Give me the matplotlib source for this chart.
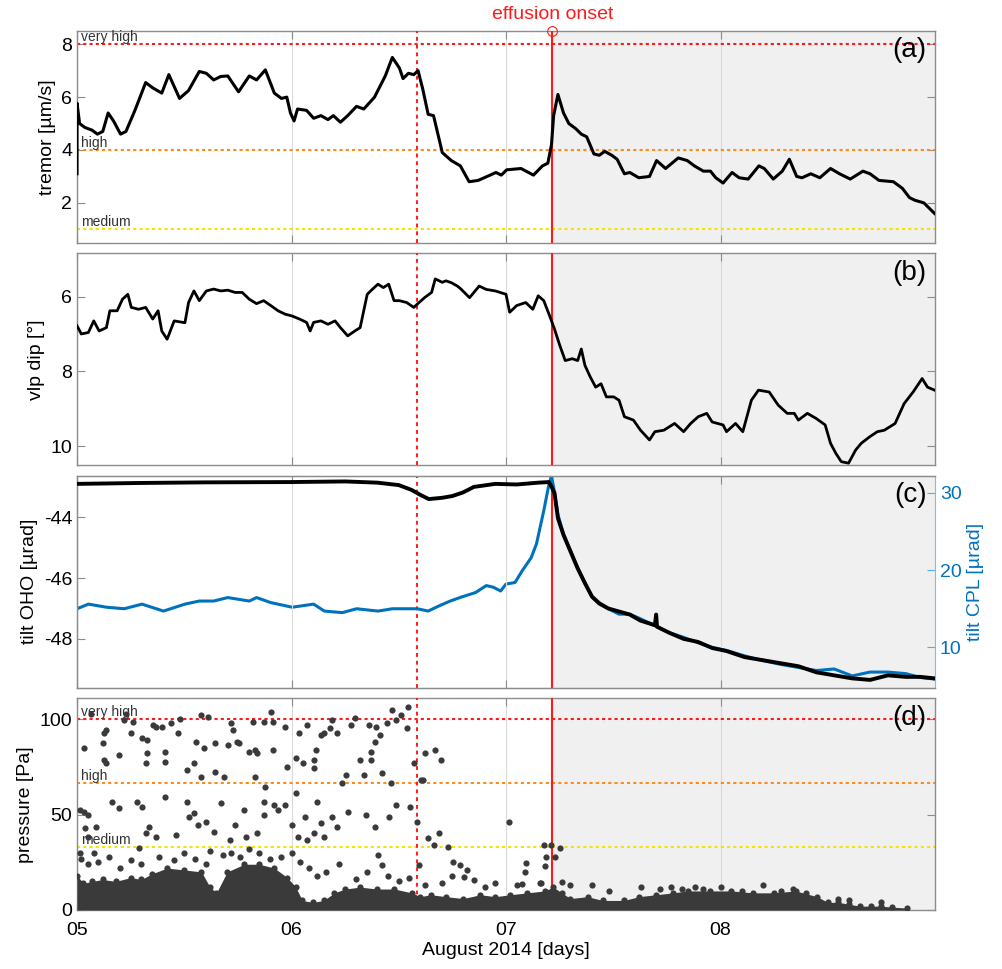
import matplotlib
matplotlib.use('Agg')
import matplotlib.pyplot as plt

plt.rcParams['font.family'] = ['Liberation Sans', 'DejaVu Sans']
plt.rcParams['axes.unicode_minus'] = False

# ---------------- data ----------------
X_START, X_END = 5.0, 9.0
ESCALATION_DAY = 6.586
ONSET_DAY = 7.216
day_ticks = [5, 6, 7, 8]
day_labels = ['05', '06', '07', '08']

tremor_levels = {'medium': 1.0, 'high': 4.0, 'very high': 8.0}
pressure_levels = {'medium': 33.3, 'high': 66.7, 'very high': 100.0}

tremor_t = [5.0, 5.0, 5.012, 5.037, 5.07, 5.095, 5.12, 5.145, 5.17, 5.203, 5.228, 5.27, 5.32, 5.353,
            5.395, 5.428, 5.453, 5.478, 5.52, 5.57, 5.603, 5.637, 5.67, 5.703, 5.753, 5.803, 5.837,
            5.878, 5.92, 5.953, 5.978, 5.995, 6.012, 6.028, 6.07, 6.103, 6.137, 6.17, 6.195, 6.228,
            6.262, 6.303, 6.337, 6.387, 6.437, 6.47, 6.503, 6.52, 6.545, 6.57, 6.59, 6.612, 6.637,
            6.662, 6.703, 6.745, 6.787, 6.828, 6.87, 6.912, 6.953, 6.978, 7.003, 7.07, 7.128, 7.17,
            7.195, 7.212, 7.222, 7.242, 7.268, 7.293, 7.326, 7.351, 7.376, 7.41, 7.435, 7.46, 7.493,
            7.518, 7.552, 7.577, 7.619, 7.669, 7.702, 7.744, 7.803, 7.845, 7.878, 7.92, 7.953, 7.978,
            8.012, 8.054, 8.087, 8.129, 8.179, 8.204, 8.246, 8.288, 8.321, 8.355, 8.38, 8.421, 8.463,
            8.513, 8.555, 8.605, 8.664, 8.697, 8.739, 8.806, 8.848, 8.881, 8.906, 8.948, 8.998]
tremor_v = [3.1, 5.77, 5.0, 4.85, 4.75, 4.6, 4.7, 5.4, 5.1, 4.6, 4.7, 5.5, 6.55, 6.35,
            6.15, 6.85, 6.4, 5.95, 6.25, 6.97, 6.9, 6.65, 6.78, 6.8, 6.2, 6.8, 6.65,
            7.03, 6.15, 5.95, 6.0, 5.4, 5.1, 5.55, 5.5, 5.2, 5.3, 5.15, 5.3, 5.05,
            5.3, 5.65, 5.55, 6.0, 6.8, 7.5, 7.1, 6.7, 6.9, 6.85, 7.0, 6.3, 5.35,
            5.3, 3.9, 3.6, 3.4, 2.8, 2.85, 3.0, 3.15, 3.05, 3.25, 3.3, 3.05, 3.4,
            3.5, 4.2, 5.3, 6.1, 5.4, 5.0, 4.8, 4.6, 4.5, 3.85, 3.8, 3.95, 3.8,
            3.65, 3.1, 3.15, 2.95, 3.0, 3.6, 3.3, 3.7, 3.6, 3.4, 3.2, 3.2, 2.95,
            2.75, 3.15, 2.95, 2.9, 3.4, 3.3, 2.9, 3.2, 3.65, 3.0, 2.95, 3.1, 2.95,
            3.3, 3.1, 2.9, 3.2, 3.1, 2.85, 2.8, 2.55, 2.2, 2.1, 2.0, 1.6]

vlp_t = [5.0, 5.02, 5.053, 5.078, 5.103, 5.137, 5.153, 5.187, 5.212, 5.237, 5.253, 5.287, 5.32,
         5.353, 5.378, 5.395, 5.42, 5.453, 5.503, 5.52, 5.545, 5.57, 5.603, 5.637, 5.67, 5.703,
         5.737, 5.77, 5.803, 5.837, 5.87, 5.903, 5.937, 5.97, 6.003, 6.037, 6.07, 6.087, 6.103,
         6.137, 6.17, 6.203, 6.228, 6.262, 6.295, 6.32, 6.353, 6.378, 6.403, 6.428, 6.453, 6.478,
         6.503, 6.537, 6.57, 6.587, 6.62, 6.653, 6.67, 6.703, 6.72, 6.745, 6.773, 6.79, 6.83,
         6.875, 6.908, 6.95, 7.0, 7.017, 7.05, 7.092, 7.125, 7.15, 7.176, 7.209, 7.226, 7.251,
         7.276, 7.309, 7.334, 7.351, 7.368, 7.393, 7.418, 7.443, 7.468, 7.502, 7.527, 7.552,
         7.594, 7.627, 7.669, 7.694, 7.736, 7.786, 7.828, 7.861, 7.896, 7.936, 7.961, 8.012,
         8.028, 8.07, 8.104, 8.144, 8.177, 8.227, 8.269, 8.311, 8.344, 8.363, 8.405, 8.447,
         8.488, 8.513, 8.538, 8.563, 8.597, 8.63, 8.656, 8.697, 8.731, 8.764, 8.814, 8.856,
         8.898, 8.94, 8.965, 8.998]
vlp_v = [6.78, 7.0, 6.96, 6.65, 6.92, 6.83, 6.38, 6.38, 6.07, 5.94, 6.29, 6.34, 6.29,
         6.6, 6.38, 6.92, 7.14, 6.65, 6.7, 6.16, 5.85, 6.11, 5.85, 5.8, 5.85, 5.83,
         5.89, 5.89, 6.07, 6.19, 6.11, 6.24, 6.38, 6.47, 6.52, 6.6, 6.69, 6.92, 6.69,
         6.65, 6.74, 6.65, 6.83, 7.05, 6.92, 6.83, 5.94, 5.8, 5.67, 5.76, 5.67, 6.11,
         6.11, 6.16, 6.29, 6.2, 6.03, 5.89, 5.53, 5.62, 5.58, 5.63, 5.72, 5.8, 6.03,
         5.72, 5.81, 5.85, 5.94, 6.42, 6.24, 6.16, 6.34, 5.98, 6.11, 6.6, 6.87, 7.31,
         7.71, 7.66, 7.71, 7.4, 7.84, 8.15, 8.42, 8.33, 8.68, 8.68, 8.77, 9.21,
         9.3, 9.57, 9.83, 9.61, 9.57, 9.39, 9.61, 9.39, 9.21, 9.12, 9.35, 9.43,
         9.61, 9.39, 9.61, 8.77, 8.5, 8.55, 8.9, 9.12, 9.12, 9.3, 9.12, 9.26,
         9.43, 9.92, 10.19, 10.41, 10.45, 10.1, 9.92, 9.74, 9.61, 9.57, 9.39, 8.86,
         8.55, 8.19, 8.42, 8.5]

oho_t = [5.0, 5.3, 5.6, 6.0, 6.25, 6.4, 6.5, 6.56, 6.6, 6.64, 6.7, 6.75, 6.8, 6.85, 6.95, 7.05,
         7.15, 7.2, 7.212, 7.226, 7.242, 7.268, 7.301, 7.334, 7.368, 7.401, 7.435, 7.477, 7.527,
         7.577, 7.627, 7.694, 7.700, 7.704, 7.761, 7.828, 7.895, 7.961, 8.028, 8.112, 8.196,
         8.279, 8.363, 8.447, 8.53, 8.614, 8.697, 8.781, 8.864, 8.931, 8.998]
oho_v = [-42.9, -42.87, -42.85, -42.84, -42.82, -42.86, -42.94, -43.1, -43.26, -43.4, -43.36,
         -43.3, -43.18, -43.0, -42.9, -42.92, -42.86, -42.84, -42.99, -43.2, -44.03, -44.58,
         -45.13, -45.68, -46.17, -46.61, -46.83, -47.0, -47.1, -47.2, -47.4, -47.55, -47.2,
         -47.6, -47.8, -48.0, -48.1, -48.3, -48.4, -48.6, -48.7, -48.8, -48.9, -49.1, -49.2,
         -49.3, -49.35, -49.2, -49.25, -49.25, -49.3]

cpl_t = [5.0, 5.053, 5.137, 5.22, 5.303, 5.403, 5.503, 5.57, 5.637, 5.703, 5.803, 5.837,
         5.903, 6.003, 6.103, 6.153, 6.237, 6.303, 6.403, 6.47, 6.587, 6.637, 6.69, 6.74,
         6.79, 6.858, 6.908, 6.94, 6.975, 7.0, 7.042, 7.075, 7.117, 7.142, 7.176, 7.2, 7.212,
         7.222, 7.242, 7.268, 7.301, 7.334, 7.368, 7.401, 7.435, 7.477, 7.527, 7.577, 7.627,
         7.694, 7.761, 7.828, 7.895, 7.961, 8.028, 8.112, 8.196, 8.279, 8.363, 8.447, 8.53,
         8.614, 8.697, 8.781, 8.864, 8.931, 8.998]
cpl_v = [15.0, 15.6, 15.2, 15.0, 15.6, 14.7, 15.6, 16.0, 16.0, 16.45, 16.0, 16.45,
         15.8, 15.2, 15.6, 14.7, 14.5, 15.0, 14.7, 15.0, 15.0, 14.7, 15.4, 16.0,
         16.5, 17.1, 18.0, 17.8, 17.3, 18.2, 18.4, 19.9, 21.6, 23.4, 27.7, 31.1, 32.2,
         30.7, 27.2, 24.7, 22.5, 20.3, 18.4, 16.5, 15.6, 15.0, 14.3, 14.3, 13.7,
         12.8, 11.9, 11.3, 10.6, 10.0, 9.6, 8.9, 8.3, 7.8, 7.4, 7.0, 7.2,
         6.3, 6.8, 6.8, 6.6, 6.1, 5.9]

# isolated pressure detections (days, Pa)
pressure_t = [5.067, 5.032, 5.128, 5.137, 5.12, 5.128, 5.137, 5.195, 5.22, 5.228, 5.262, 5.253,
              5.303, 5.328, 5.328, 5.32, 5.353, 5.37, 5.395, 5.412, 5.412, 5.437, 5.478, 5.47,
              5.512, 5.553, 5.545, 5.578, 5.578, 5.612, 5.59, 5.645, 5.645, 5.687, 5.703, 5.72,
              5.728, 5.745, 5.757, 5.803, 5.828, 5.837, 5.828, 5.82, 5.87, 5.903, 5.912, 5.878,
              5.912, 5.97, 5.978, 6.02, 6.053, 6.037, 6.07, 6.103, 6.103, 6.112, 6.137, 6.153,
              6.187, 6.178, 6.212, 6.237, 6.253, 6.278, 6.295, 6.32, 6.337, 6.362, 6.37, 6.37,
              6.387, 6.395, 6.412, 6.42, 6.445, 6.462, 6.47, 6.487, 6.512, 6.537, 6.545, 6.57,
              6.603, 6.62, 6.67, 6.695,
              5.012, 5.032, 5.053, 5.037, 5.087, 5.053, 5.012, 5.162, 5.195, 5.278, 5.303, 5.287,
              5.32, 5.337, 5.37, 5.412, 5.462, 5.512, 5.52, 5.545, 5.562, 5.603, 5.637, 5.67,
              5.712, 5.737, 5.778, 5.787, 5.837, 5.87, 5.87, 5.92, 5.937, 5.97, 6.003, 6.02,
              6.028, 6.062, 6.07, 6.103, 6.12, 6.137, 6.153, 6.187, 6.212, 6.262, 6.345, 6.387,
              6.403, 6.42, 6.453, 6.487, 6.553, 6.587, 6.595, 6.612, 6.637, 6.662, 6.687, 6.728,
              6.753, 6.787, 6.803, 6.82, 6.853, 7.012, 7.095, 7.087, 7.162, 7.178, 7.187, 7.209,
              7.228, 7.075, 7.159, 7.184, 7.251, 7.263,
              5.02, 5.05, 5.08, 5.1, 5.15, 5.2, 5.25, 5.3, 5.38, 5.45, 5.5, 5.55, 5.6, 5.62, 5.68,
              5.72, 5.76, 5.8, 5.85, 5.9, 5.95, 6.0, 6.04, 6.08, 6.12, 6.16, 6.22, 6.3, 6.35,
              6.45, 6.5, 6.55, 6.62, 6.7, 6.75, 6.9, 6.95, 7.05, 7.3, 7.4, 7.48, 7.63, 7.72,
              7.77, 7.82, 7.88, 7.92, 8.0, 8.1, 8.2, 8.28, 8.34, 8.4, 8.55, 8.6, 8.75]
pressure_v = [102.6, 84.8, 92.7, 94.4, 87.4, 78.7, 76.9, 81.3, 99.7, 103.1, 98.8, 92.7,
              90.0, 89.2, 82.2, 76.9, 97.0, 96.2, 96.2, 83.0, 77.8, 97.9, 100.0, 92.7,
              73.4, 88.3, 76.9, 69.9, 102.3, 101.4, 84.8, 87.4, 72.6, 69.9, 86.5, 97.9,
              94.4, 88.3, 87.4, 83.0, 83.9, 82.2, 69.9, 98.8, 98.8, 104.0, 98.8, 64.7,
              83.9, 96.2, 75.2, 79.5, 76.9, 92.7, 97.0, 78.7, 74.3, 83.9, 91.8, 92.7,
              99.7, 95.3, 92.7, 66.4, 70.8, 97.0, 100.5, 78.7, 70.8, 97.0, 83.0, 78.7,
              88.3, 96.2, 91.8, 71.7, 97.9, 66.4, 104.9, 99.7, 102.3, 95.3, 106.6, 76.9,
              68.2, 82.2, 83.9, 78.7,
              52.4, 51.6, 49.8, 42.8, 43.7, 38.5, 29.7, 56.8, 53.3, 56.8, 54.2, 32.3,
              40.2, 43.7, 38.5, 59.4, 39.3, 56.8, 49.0, 50.7, 44.6, 46.3, 41.1, 55.9,
              36.7, 44.6, 52.4, 38.5, 40.2, 49.8, 56.8, 55.1, 52.4, 55.1, 44.6, 61.2,
              38.5, 49.0, 36.7, 40.2, 56.8, 45.5, 38.5, 49.0, 43.7, 51.6, 49.8, 43.7,
              28.8, 23.6, 49.0, 55.1, 54.2, 46.3, 23.6, 68.2, 37.6, 34.1, 40.2, 33.2,
              25.3, 23.6, 17.5, 21.0, 15.7, 46.3, 24.5, 20.1, 14.0, 34.1, 28.0, 34.1,
              28.0, 13.5, 14.3, 23.3, 32.3, 14.9,
              27, 24, 30, 25, 28, 22, 26, 24, 28, 26, 30, 27, 24, 31, 29,
              30, 28, 32, 30, 27, 28, 30, 25, 22, 18, 20, 24, 16, 20,
              18, 15, 17, 13, 14, 18, 12, 14, 13, 13, 13, 10, 12, 11,
              12, 11, 12, 11, 12, 10, 13, 10, 11, 9, 6, 5, 4]

# upper edge of the dense cloud of small detections
dense_t = [5.0, 5.03, 5.07, 5.12, 5.18, 5.25, 5.3, 5.35, 5.42, 5.5, 5.58, 5.62, 5.65, 5.7,
           5.78, 5.85, 5.92, 5.98, 6.02, 6.05, 6.1, 6.15, 6.2, 6.25, 6.32, 6.4, 6.48, 6.56,
           6.6, 6.65, 6.72, 6.8, 6.88, 6.95, 7.02, 7.1, 7.18, 7.22, 7.26, 7.3, 7.38, 7.45,
           7.55, 7.62, 7.7, 7.78, 7.85, 7.95, 8.05, 8.15, 8.25, 8.35, 8.45, 8.5, 8.55, 8.6,
           8.65, 8.7, 8.75, 8.8, 8.87]
dense_v = [18, 14, 15, 16, 15, 17, 16, 19, 22, 21, 20, 12, 9, 20,
           24, 24, 22, 17, 12, 5, 4, 5, 9, 11, 12, 11, 11, 9,
           7, 8, 7, 6, 8, 7, 8, 9, 10, 12, 9, 6, 7, 5,
           5, 7, 8, 9, 10, 10, 10, 9, 9, 10, 7, 4, 4, 3,
           2, 2, 2, 1.5, 1]

# ---------------- styles ----------------
RED = '#ff1a1a'
ORANGE = '#ff8c1a'
YELLOW = '#f2e600'
BLUE = '#0072BD'
SPINE = '#8c8c8c'
SHADE = '#f0f0f0'
DOT = '#3a3a3a'
FS = 14

fig = plt.figure(figsize=(10.03, 9.69), dpi=100)
L, W, H = 0.0768, 0.8554, 0.2183
bottoms = [0.7497, 0.5201, 0.2905, 0.0609]
axes = [fig.add_axes([L, b, W, H]) for b in bottoms]
ax_a, ax_b, ax_c, ax_d = axes


def style(ax, right=True):
    ax.set_xlim(X_START, X_END)
    ax.set_xticks(day_ticks)
    ax.set_xticklabels(day_labels)
    for s in ax.spines.values():
        s.set_color(SPINE)
        s.set_linewidth(1.0)
    ax.tick_params(direction='in', length=6, width=0.8, color=SPINE, labelsize=FS,
                   top=True, right=right, labelcolor='black')
    ax.tick_params(axis='x', pad=9)
    ax.grid(axis='x', color='#d9d9d9', linewidth=0.8)
    ax.set_axisbelow(True)


def events(ax, shade=True):
    if shade:
        ax.axvspan(ONSET_DAY, X_END, color=SHADE, zorder=0, lw=0)
    ax.axvline(ESCALATION_DAY, color=RED, ls=(0, (2, 2)), lw=1.4, zorder=3)
    ax.axvline(ONSET_DAY, color=RED, ls='-', lw=1.5, zorder=3)


def levels(ax, lv, dy):
    cols = {'medium': YELLOW, 'high': ORANGE, 'very high': RED}
    for name, val in lv.items():
        ax.axhline(val, color=cols[name], ls=(0, (1.5, 1.5)), lw=1.5, zorder=2)
        ax.text(X_START + 0.02, val + dy, name, fontsize=10, color='#333333',
                va='bottom', ha='left', zorder=4)


# (a) tremor
style(ax_a)
events(ax_a)
levels(ax_a, tremor_levels, 0.0)
ax_a.plot(tremor_t, tremor_v, color='black', lw=2.2, zorder=5, solid_joinstyle='round')
ax_a.set_ylim(0.5, 8.5)
ax_a.set_yticks([2, 4, 6, 8])
ax_a.set_ylabel('tremor [µm/s]', fontsize=FS)
ax_a.tick_params(labelbottom=False)
ax_a.text(0.99, 0.97, '(a)', transform=ax_a.transAxes, ha='right', va='top', fontsize=20)
ax_a.annotate('effusion onset', xy=(ONSET_DAY, 1.0), xycoords=('data', 'axes fraction'),
              xytext=(0, 6), textcoords='offset points', ha='center', va='bottom',
              color=RED, fontsize=FS)
ax_a.plot([ONSET_DAY], [8.5], marker='o', mfc='none', mec=RED, ms=7, mew=0.8,
          clip_on=False, zorder=6)

# (b) vlp dip
style(ax_b)
events(ax_b)
ax_b.plot(vlp_t, vlp_v, color='black', lw=2.0, zorder=5)
ax_b.set_ylim(10.5, 4.85)
ax_b.set_yticks([6, 8, 10])
ax_b.set_ylabel('vlp dip [°]', fontsize=FS)
ax_b.tick_params(labelbottom=False)
ax_b.text(0.99, 0.97, '(b)', transform=ax_b.transAxes, ha='right', va='top', fontsize=20)

# (c) tilt
ax_cr = ax_c.twinx()
ax_cr.set_position([L, bottoms[2], W, H])
style(ax_c, right=False)
ax_cr.set_xlim(X_START, X_END)
events(ax_cr)
ax_cr.grid(axis='x', color='#d9d9d9', linewidth=0.8)
ax_cr.set_axisbelow(True)
ax_cr.plot(cpl_t, cpl_v, color=BLUE, lw=2.2, zorder=4)
ax_cr.set_ylim(4.8, 32.2)
ax_cr.set_yticks([10, 20, 30])
ax_cr.tick_params(axis='y', direction='in', length=6, color='#5aa9e6', labelcolor=BLUE,
                  labelsize=FS)
ax_cr.set_ylabel('tilt CPL [µrad]', fontsize=FS, color=BLUE)
for s in ax_cr.spines.values():
    s.set_color(SPINE)
ax_cr.spines['right'].set_color('#7fbce8')
ax_c.set_zorder(ax_cr.get_zorder() + 1)
ax_c.patch.set_visible(False)
ax_c.plot(oho_t, oho_v, color='black', lw=2.8, zorder=5)
ax_c.set_ylim(-49.6, -42.64)
ax_c.set_yticks([-48, -46, -44])
ax_c.set_ylabel('tilt OHO [µrad]', fontsize=FS)
ax_c.tick_params(labelbottom=False)
ax_c.spines['right'].set_visible(False)
ax_c.text(0.99, 0.97, '(c)', transform=ax_c.transAxes, ha='right', va='top', fontsize=20)

# (d) pressure
style(ax_d)
events(ax_d)
levels(ax_d, pressure_levels, 0.0)
ax_d.fill_between(dense_t, 0, dense_v, color=DOT, lw=0, zorder=4)
ax_d.scatter(dense_t, dense_v, s=20, color=DOT, lw=0, zorder=4)
ax_d.scatter(pressure_t, pressure_v, s=20, color=DOT, lw=0, zorder=4)
ax_d.set_ylim(0, 111)
ax_d.set_yticks([0, 50, 100])
ax_d.set_ylabel('pressure [Pa]', fontsize=FS)
ax_d.set_xlabel('August 2014 [days]', fontsize=FS, labelpad=2)
ax_d.text(0.99, 0.97, '(d)', transform=ax_d.transAxes, ha='right', va='top', fontsize=20)

fig.savefig('out.png', dpi=100)
